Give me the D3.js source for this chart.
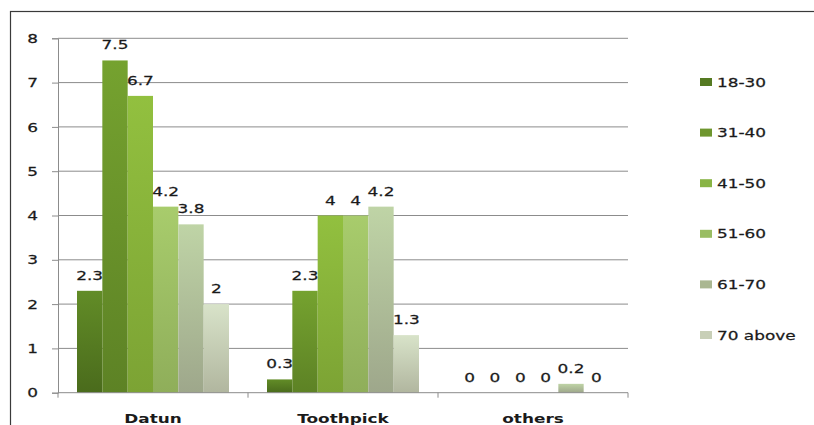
<!DOCTYPE html>
<html>
<head>
<meta charset="utf-8">
<script src="https://cdn.jsdelivr.net/npm/d3@7"></script>
<style>
  body { margin: 0; background: #fff; }
  svg { display: block; font-family: "DejaVu Sans", Verdana, sans-serif; }
</style>
</head>
<body>
<div id="chart"></div>
<script>
// data
var categories = ['Datun', 'Toothpick', 'others'];
var ageGroups = ['18-30', '31-40', '41-50', '51-60', '61-70', '70 above'];
var datun = [2.3, 7.5, 6.7, 4.2, 3.8, 2];
var toothpick = [0.3, 2.3, 4, 4, 4.2, 1.3];
var others = [0, 0, 0, 0, 0.2, 0];
var yTicks = [0, 1, 2, 3, 4, 5, 6, 7, 8];

var seriesByCat = [datun, toothpick, others];

// colours per age group (top / bottom of the gradient, legend swatch)
var topCol = ['#628c27', '#75a22f', '#92c03f', '#a8cc6c', '#bfd4a6', '#d8e3c9'];
var botCol = ['#4a6b1c', '#5d8225', '#7ca334', '#8fae5a', '#9ea78b', '#b1b69f'];
var swatch = ['#557a22', '#6e962e', '#88b445', '#99bd63', '#aab791', '#c8cfb7'];

var W = 814, H = 425;
var margin = {top: 38.3, left: 58, right: 186, bottom: 32.3};
var sx = 1.3;  // text in the picture is stretched sideways

var svg = d3.select('#chart').append('svg')
	.attr('width', W)
	.attr('height', H);

var defs = svg.append('defs');
ageGroups.forEach(function (g, i) {
	var grad = defs.append('linearGradient')
		.attr('id', 'grad' + i)
		.attr('x1', 0).attr('y1', 0).attr('x2', 0).attr('y2', 1);
	grad.append('stop').attr('offset', '0%').attr('stop-color', topCol[i]);
	grad.append('stop').attr('offset', '100%').attr('stop-color', botCol[i]);
});

// outer frame
svg.append('rect')
	.attr('x', 10.5).attr('y', 11.5)
	.attr('width', W).attr('height', H)
	.attr('fill', 'none')
	.attr('stroke', '#3a3a3a')
	.attr('stroke-width', 1.2);

var y = d3.scaleLinear()
	.domain([0, 8])
	.range([H - margin.bottom, margin.top]);

var x0 = d3.scaleBand()
	.domain(categories)
	.range([margin.left, W - margin.right])
	.paddingInner(0.2)
	.paddingOuter(0.1);

var x1 = d3.scaleBand()
	.domain(ageGroups)
	.range([0, x0.bandwidth()]);

function stretched(sel, px, py) {
	return sel.attr('transform', 'translate(' + px + ',' + py + ') scale(' + sx + ',1)');
}

// gridlines + y ticks
var yAxis = d3.axisLeft(y).tickValues(yTicks).tickSize(6).tickFormat('');
svg.append('g')
	.attr('transform', 'translate(' + margin.left + ',0)')
	.call(yAxis)
	.call(function (g) {
		g.select('.domain').attr('stroke', '#8c8c8c');
		g.selectAll('.tick line').attr('stroke', '#8c8c8c');
	});

svg.append('g')
	.selectAll('line')
	.data(yTicks.slice(1))
	.enter().append('line')
	.attr('x1', margin.left).attr('x2', W - margin.right)
	.attr('y1', function (d) { return y(d); })
	.attr('y2', function (d) { return y(d); })
	.attr('stroke', '#8c8c8c')
	.attr('stroke-width', 1);

svg.append('g')
	.selectAll('text')
	.data(yTicks)
	.enter().append('text')
	.each(function (d) { stretched(d3.select(this), 38, y(d)); })
	.attr('text-anchor', 'end')
	.attr('dy', '0.36em')
	.attr('font-size', 13)
	.attr('fill', '#1a1a1a')
	.attr('stroke', '#1a1a1a')
	.attr('stroke-width', 0.25)
	.text(function (d) { return d; });

// bars
var groups = svg.append('g')
	.selectAll('g')
	.data(categories)
	.enter().append('g')
	.attr('transform', function (c) { return 'translate(' + x0(c) + ',0)'; });

groups.selectAll('rect')
	.data(function (c, ci) { return seriesByCat[ci].map(function (v, i) { return {g: ageGroups[i], i: i, v: v}; }); })
	.enter().append('rect')
	.attr('x', function (d) { return x1(d.g); })
	.attr('y', function (d) { return y(d.v); })
	.attr('width', x1.bandwidth())
	.attr('height', function (d) { return y(0) - y(d.v); })
	.attr('fill', function (d) { return 'url(#grad' + d.i + ')'; });

groups.selectAll('text')
	.data(function (c, ci) { return seriesByCat[ci].map(function (v, i) { return {g: ageGroups[i], i: i, v: v}; }); })
	.enter().append('text')
	.each(function (d) { stretched(d3.select(this), x1(d.g) + x1.bandwidth() / 2, y(d.v) - 11); })
	.attr('text-anchor', 'middle')
	.attr('font-size', 13)
	.attr('fill', '#1a1a1a')
	.attr('stroke', '#1a1a1a')
	.attr('stroke-width', 0.25)
	.text(function (d) { return d.v; });

// x axis line and category boundary ticks
var step = x0.step();
var bounds = categories.map(function (c) { return x0(c) - step * 0.1; });
bounds.push(x0(categories[categories.length - 1]) + x0.bandwidth() + step * 0.1);

svg.append('line')
	.attr('x1', margin.left).attr('x2', W - margin.right)
	.attr('y1', y(0)).attr('y2', y(0))
	.attr('stroke', '#8c8c8c');

svg.append('g')
	.selectAll('line')
	.data(bounds)
	.enter().append('line')
	.attr('x1', function (d) { return d; }).attr('x2', function (d) { return d; })
	.attr('y1', y(0)).attr('y2', y(0) + 5)
	.attr('stroke', '#8c8c8c');

svg.append('g')
	.selectAll('text')
	.data(categories)
	.enter().append('text')
	.each(function (c) { stretched(d3.select(this), x0(c) + x0.bandwidth() / 2, 423); })
	.attr('text-anchor', 'middle')
	.attr('font-size', 13)
	.attr('font-weight', 'bold')
	.attr('fill', '#1a1a1a')
	.text(function (c) { return c; });

// legend
var legendY = d3.scalePoint()
	.domain(ageGroups)
	.range([82, 335]);

var legend = svg.append('g')
	.selectAll('g')
	.data(ageGroups)
	.enter().append('g')
	.attr('transform', function (g) { return 'translate(700,' + legendY(g) + ')'; });

legend.append('rect')
	.attr('x', 0).attr('y', -4)
	.attr('width', 12).attr('height', 8)
	.attr('fill', function (g, i) { return swatch[i]; });

legend.append('text')
	.each(function () { stretched(d3.select(this), 17, 0); })
	.attr('dy', '0.36em')
	.attr('font-size', 13)
	.attr('fill', '#1a1a1a')
	.attr('stroke', '#1a1a1a')
	.attr('stroke-width', 0.25)
	.text(function (g) { return g; });
</script>
</body>
</html>
